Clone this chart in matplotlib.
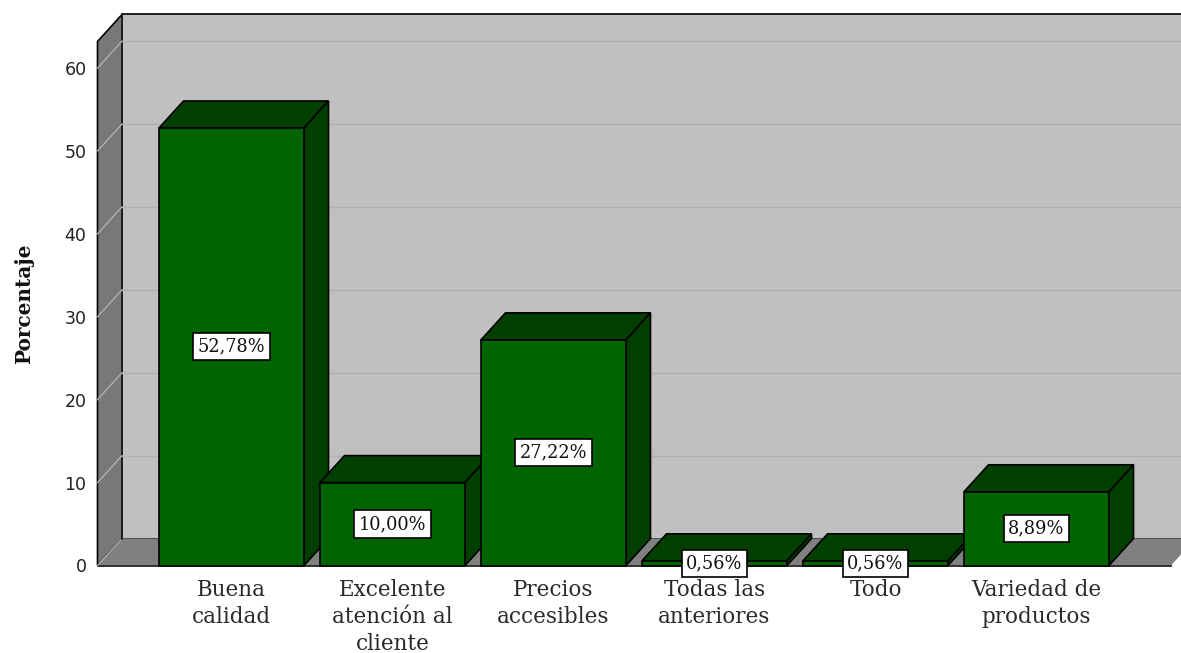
import matplotlib
matplotlib.use('Agg')
import matplotlib.pyplot as plt
from matplotlib.patches import Polygon

categorias = ['Buena\ncalidad', 'Excelente\natención al\ncliente', 'Precios\naccesibles',
              'Todas las\nanteriores', 'Todo', 'Variedad de\nproductos']
valores = [52.78, 10.00, 27.22, 0.56, 0.56, 8.89]
marcas_y = [0, 10, 20, 30, 40, 50, 60]

W, H = 1181, 653
# plano frontal en pixeles
X0, X1, Y0, Y1 = 97.5, 1171, 565.5, 41.5
PX_X = 161.0
PX_Y = 8.29
CENTRO = 231.5

fig = plt.figure(figsize=(W / 100, H / 100), dpi=100, facecolor='white')
ax = fig.add_axes([X0 / W, 1 - Y0 / H, (X1 - X0) / W, (Y0 - Y1) / H])
ax.set_xlim((X0 - CENTRO) / PX_X, (X1 - CENTRO) / PX_X)
ax.set_ylim(0, (Y0 - Y1) / PX_Y)
ax.patch.set_visible(False)
for s in ax.spines.values():
    s.set_visible(False)

xmin, xmax = ax.get_xlim()
ymax = ax.get_ylim()[1]
dx = 24.5 / PX_X
dy = 27 / PX_Y
ancho = 145 / PX_X


def poly(puntos, color, lw=1.2, ec='black', z=1):
    ax.add_patch(Polygon(puntos, closed=True, fc=color, ec=ec, lw=lw, zorder=z,
                         clip_on=False, joinstyle='miter'))


# paredes y piso
poly([(xmin + dx, dy), (xmax + dx, dy), (xmax + dx, ymax + dy), (xmin + dx, ymax + dy)], '#c0c0c0')
poly([(xmin, 0), (xmin + dx, dy), (xmin + dx, ymax + dy), (xmin, ymax)], '#787878')
poly([(xmin, 0), (xmax, 0), (xmax + dx, dy), (xmin + dx, dy)], '#808080', lw=0, ec='none', z=1.1)
ax.plot([xmin, xmax], [0, 0], color='#222222', lw=1.3, zorder=1.2, clip_on=False)
ax.plot([xmin, xmin + dx], [0, dy], color='#b5b5b5', lw=0.9, zorder=1.2, clip_on=False)
ax.plot([xmin + dx, xmin + dx], [dy, ymax + dy], color='#222222', lw=1.3, zorder=1.2, clip_on=False)

for m in marcas_y[1:]:
    ax.plot([xmin + dx, xmax + dx], [m + dy, m + dy], color='#b0b0b0', lw=1, zorder=1.2, clip_on=False)
    ax.plot([xmin, xmin + dx], [m, m + dy], color='#b5b5b5', lw=0.9, zorder=1.2, clip_on=False)

# barras
for i, v in enumerate(valores):
    iz, de = i - ancho / 2, i + ancho / 2
    z = 2 + i * 0.1
    poly([(iz, v), (de, v), (de + dx, v + dy), (iz + dx, v + dy)], '#003f00', z=z)
    poly([(de, 0), (de + dx, dy), (de + dx, v + dy), (de, v)], '#003f00', z=z)
    poly([(iz, 0), (de, 0), (de, v), (iz, v)], '#006400', z=z)

for i, v in enumerate(valores):
    ax.text(i, v / 2, f'{v:.2f}%'.replace('.', ','), ha='center', va='center', zorder=5,
            family='DejaVu Serif', fontsize=12.8, color='#111111',
            bbox=dict(boxstyle='square,pad=0.26', fc='white', ec='black', lw=1.2))

ax.set_yticks(marcas_y)
ax.set_xticks(range(len(categorias)))
ax.set_xticklabels(categorias, family='DejaVu Serif', fontsize=15.5, color='#2a2a2a', linespacing=1.3)
ax.tick_params(axis='x', length=0, pad=9.5)
ax.tick_params(axis='y', length=0, pad=8, labelsize=12.5, labelcolor='#222222')
fig.text(24 / W, 1 - 304 / H, 'Porcentaje', rotation=90, ha='center', va='center',
         family='DejaVu Serif', fontweight='bold', fontsize=14.4, color='#111111')

fig.savefig('out.png', dpi=100)
